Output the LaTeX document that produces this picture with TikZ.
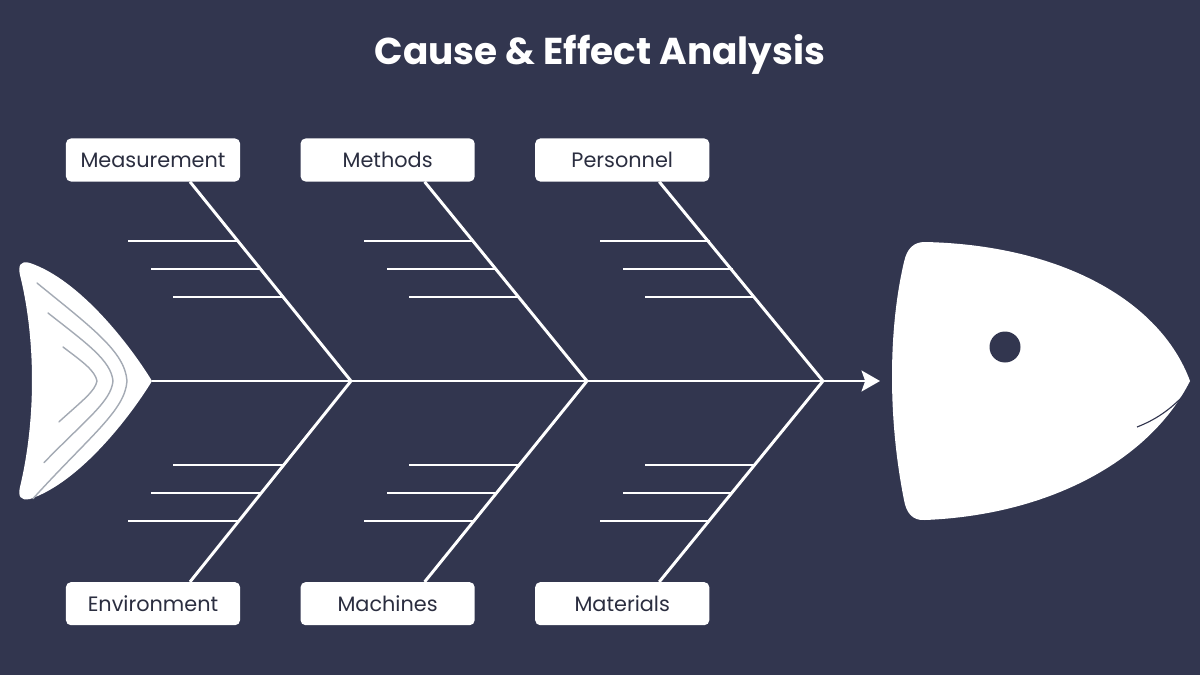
\documentclass[tikz,border=0pt]{standalone}
\usepackage{fontspec}
\setmainfont{Poppins}
\usetikzlibrary{positioning, arrows.meta}

\definecolor{navy}{HTML}{32364F}
\definecolor{labelink}{HTML}{2B2E40}
\definecolor{fingray}{HTML}{A4AAB4}

\tikzset{
  causebox/.style={fill=white, rounded corners=3.5pt, minimum width=4.35cm,
    minimum height=1.075cm, inner sep=0pt, text=labelink, font=\fontsize{14.8}{17}\selectfont},
  bone/.style={white, line width=2.1pt},
  rib/.style={white, line width=2pt}
}

\begin{document}
\begin{tikzpicture}[x=0.025cm, y=-0.025cm, node distance=1.5cm]
  % background
  \fill[navy] (0,0) rectangle (1200,675);
  \useasboundingbox (0,0) rectangle (1200,675);

  \node[text=white, font=\fontsize{26.6}{30}\selectfont\bfseries] (title) at (600,54) {Cause \& Effect Analysis};

  % cause boxes
  \node[causebox] (measure) at (153,160) {Measurement};
  \node[causebox, right = of measure] (methods) {Methods};
  \node[causebox, right = of methods] (personnel) {Personnel};
  \node[causebox, below = 10cm of measure] (environ) {Environment};
  \node[causebox, right = of environ] (machines) {Machines};
  \node[causebox, right = of machines] (materials) {Materials};

  % spine
  \coordinate (tailtip) at (152,381);
  \coordinate (headtip) at (880,381);
  \coordinate (j1) at (351,381);
  \coordinate (j2) at (587,381);
  \coordinate (j3) at (823,381);
  \draw[bone, -{Stealth[length=4.6mm, width=5.2mm, inset=0.9mm]}] (tailtip) -- (headtip);

  % main bones
  \foreach \cause/\j in {measure/j1, methods/j2, personnel/j3} {
    \path (\cause.south) ++(37,0) coordinate (\cause-foot);
    \draw[bone] (\cause-foot) -- (\j);
  }
  \foreach \cause/\j in {environ/j1, machines/j2, materials/j3} {
    \path (\cause.north) ++(37,0) coordinate (\cause-foot);
    \draw[bone] (\cause-foot) -- (\j);
  }

  % small bones
  \foreach \j in {j1, j2, j3} {
    \foreach \dy in {84, 112, 140} {
      \draw[rib] (\j) ++({-0.805*\dy},-\dy) -- ++(-110,0);
      \draw[rib] (\j) ++({-0.805*\dy},\dy) -- ++(-110,0);
    }
  }

  % tail
  \fill[white] (tailtip) .. controls (130,345) and (80,280) .. (30,263)
    .. controls (20,260) and (18,266) .. (20,275)
    .. controls (36,340) and (36,420) .. (20,487)
    .. controls (18,496) and (20,501) .. (30,499)
    .. controls (80,482) and (130,417) .. (tailtip) -- cycle;
  \foreach \a/\b/\c in {37/127/283, 48/113/313, 63/97/347} {
    \draw[fingray, line width=1pt, line cap=round] (\a,\c)
      .. controls ({\a+0.6*(\b-\a)},{\c+0.45*(381-\c)}) and ({\b-2},{381-0.3*(381-\c)}) .. (\b,381)
      .. controls ({\b-2},{381+0.3*(381-\c)}) and ({\a+0.6*(\b-\a)},{381+0.55*(381-\c)}) .. ({\a-4},{762-\c+2*(381-\c)/10});
  }

  % head
  \fill[white] (925,242) .. controls (1060,245) and (1160,300) .. (1190,381)
    .. controls (1150,460) and (1050,515) .. (925,520)
    .. controls (912,521) and (906,512) .. (904,500)
    .. controls (888,420) and (888,330) .. (904,262)
    .. controls (907,248) and (914,242) .. (925,242) -- cycle;
  \fill[navy] (1005,347) circle (15.5);
  \draw[navy, line width=0.8pt] (1185,394) .. controls (1170,410) and (1155,420) .. (1137,427);
\end{tikzpicture}
\end{document}
